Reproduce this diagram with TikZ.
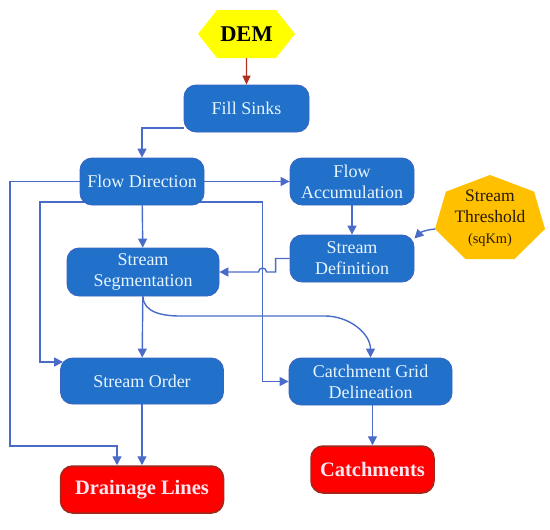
\documentclass[tikz,border=0pt]{standalone}
\usepackage{fontspec}
\setmainfont{Liberation Serif}
\usetikzlibrary{positioning}
\usetikzlibrary{arrows.meta}
\usetikzlibrary{shapes.symbols}
\usetikzlibrary{backgrounds}
\usetikzlibrary{calc}

\definecolor{boxblue}{HTML}{2170C9}
\definecolor{boxedge}{HTML}{3A62BE}
\definecolor{linkblue}{HTML}{4A6CC8}
\definecolor{boxtext}{HTML}{E6F5FF}
\definecolor{outred}{HTML}{FF0000}
\definecolor{outedge}{HTML}{9E2A1E}
\definecolor{outtext}{HTML}{FBE6F0}
\definecolor{demyellow}{HTML}{FFFF00}
\definecolor{demarrow}{HTML}{B03020}
\definecolor{thrgold}{HTML}{FFC000}
\definecolor{thrtext}{HTML}{2A1A05}

\tikzset{
  proc/.style={draw=boxedge, fill=boxblue, line width=0.8pt,
    rounded corners=12pt, text=boxtext, align=center, inner sep=0pt,
    font=\fontsize{18}{21}\selectfont},
  result/.style={draw=outedge, fill=outred, line width=1.5pt,
    rounded corners=12pt, text=outtext, inner sep=0pt,
    font=\bfseries\fontsize{20.5}{24}\selectfont},
  link/.style={draw=linkblue, line width=1.4pt,
    -{Triangle[length=9pt,width=9pt]}},
}

\begin{document}
\begin{tikzpicture}[x=1pt, y=-1pt]
  \useasboundingbox (0,0) rectangle (550,530);

  % inputs
  \node[signal, signal to=east and west, signal pointer angle=103,
    fill=demyellow, minimum width=97pt, minimum height=48pt, inner sep=0pt,
    font=\bfseries\fontsize{22.5}{26}\selectfont] (dem) at (246.5,34) {DEM};

  \coordinate (thr) at (490,219.2);
  \fill[thrgold, shift={(thr)}] (90:56.4pt and 44.2pt)
    \foreach \k in {1,...,6} { -- ({90+\k*360/7}:56.4pt and 44.2pt) } -- cycle;
  \coordinate (thrtip) at ($(thr)+(192.857:56.4pt and 44.2pt)$);
  \node[align=center, text=thrtext, font=\fontsize{17.5}{21}\selectfont]
    (thrlabel) at ([yshift=1pt]thr) {Stream\\Threshold\\{\fontsize{14.4}{17}\selectfont(sqKm)}};

  % tools
  \node[proc, minimum width=125pt, minimum height=47pt] (fill) at (246.5,108.5) {Fill Sinks};
  \node[proc, minimum width=124pt, minimum height=47pt] (fdir) at (142,181.5) {Flow Direction};
  \node[proc, minimum width=124pt, minimum height=47pt] (facc) at (352,181.5) {Flow\\Accumulation};
  \node[proc, minimum width=124pt, minimum height=47pt] (sdef) at (352,258.5) {Stream\\Definition};
  \node[proc, minimum width=152pt, minimum height=48pt] (segm) at (143,272) {Stream\\Segmentation};
  \node[proc, minimum width=163pt, minimum height=46pt] (sord) at (142,381) {Stream Order};
  \node[proc, minimum width=163pt, minimum height=47pt] (cgrid) at (370.5,381.5) {Catchment Grid\\Delineation};

  % outputs
  \node[result, minimum width=123pt, minimum height=47pt] (catch) at (372.5,469.5) {Catchments};
  \node[result, minimum width=163pt, minimum height=47pt] (drain) at (142,489.5) {Drainage Lines};

  \begin{scope}[on background layer]
    \draw[link, draw=demarrow, -{Triangle[length=9pt,width=8pt]}] (dem) -- (fill);
    \draw[link] ([yshift=-19.5pt]fill.west) -| (fdir.north);
    \draw[link] (fdir) -- (facc);
    \draw[link] (facc) -- (sdef);
    \draw[link] (thrtip) to[bend right=20] ([yshift=20pt]sdef.east);
    \draw[link] (sdef.west) -- ++(-14pt,0) |- (266.5,272)
      arc[start angle=0, end angle=180, radius=4pt] -- (segm.east);
    \draw[link] (fdir) -- (segm);
    \draw[link] (fdir.west) -| (10,446) -| ([xshift=-25pt]drain.north);
    \draw[link] ([yshift=-20.5pt]fdir.center) -| (40,362) -- ([shift={(3pt,19pt)}]sord.west);
    \draw[link] ([yshift=-20.5pt]fdir.center) -| (262.5,381.5) -- (cgrid.west);
    \draw[link] (segm) -- (sord);
    \draw[link] (segm.south) to[out=-90, in=180] (180,316) -- (325,316)
      to[out=0, in=90] (cgrid.north);
    \draw[link] (sord) -- (drain);
    \draw[link] (catch.north |- cgrid.south) -- (catch.north);
  \end{scope}
\end{tikzpicture}
\end{document}
